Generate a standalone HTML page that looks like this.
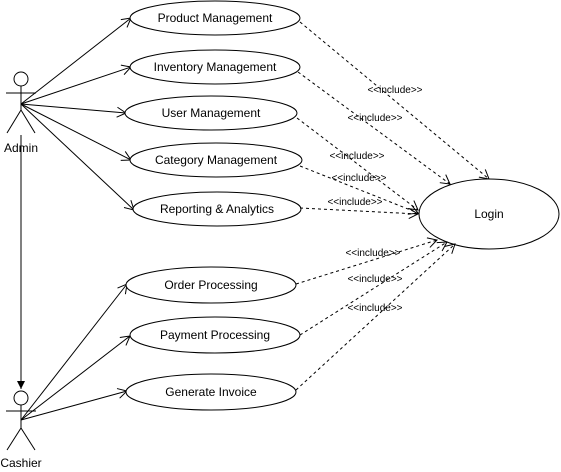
<!DOCTYPE html>
<html><head><meta charset="utf-8"><style>body{margin:0;background:#fff}svg{display:block}text{font-family:"Liberation Sans",Arial,sans-serif;fill:#000}</style></head><body>
<svg width="561" height="472" viewBox="0 0 561 472" xmlns="http://www.w3.org/2000/svg">
<defs>
<marker id="o" markerWidth="12" markerHeight="12" refX="10" refY="6" orient="auto" markerUnits="userSpaceOnUse"><path d="M1,1 L10,6 L1,11" fill="none" stroke="#000" stroke-width="1"/></marker>
<marker id="f" markerWidth="10" markerHeight="10" refX="8" refY="5" orient="auto" markerUnits="userSpaceOnUse"><path d="M0,1 L8,5 L0,9 Z" fill="#000"/></marker>
</defs>
<g stroke="#000" fill="none" stroke-width="1">
<!-- Admin -->
<circle cx="21" cy="79" r="7" fill="#fff"/>
<line x1="21" y1="86" x2="21" y2="110"/><line x1="6" y1="93" x2="36" y2="93"/>
<line x1="21" y1="110" x2="7" y2="133"/><line x1="21" y1="110" x2="35" y2="133"/>
<!-- Cashier -->
<circle cx="21" cy="398" r="7" fill="#fff"/>
<line x1="21" y1="405" x2="21" y2="428"/><line x1="6" y1="411" x2="36" y2="411"/>
<line x1="21" y1="428" x2="7" y2="450"/><line x1="21" y1="428" x2="35" y2="450"/>
<line x1="21" y1="135" x2="21" y2="389" marker-end="url(#f)"/>
<!-- admin assoc -->
<line x1="21" y1="104" x2="131" y2="18" marker-end="url(#o)"/>
<line x1="21" y1="104" x2="131" y2="67" marker-end="url(#o)"/>
<line x1="21" y1="104" x2="126" y2="113" marker-end="url(#o)"/>
<line x1="21" y1="104" x2="131" y2="160" marker-end="url(#o)"/>
<line x1="21" y1="104" x2="134" y2="210" marker-end="url(#o)"/>
<line x1="21" y1="420" x2="127" y2="284" marker-end="url(#o)"/>
<line x1="21" y1="420" x2="130" y2="336" marker-end="url(#o)"/>
<line x1="21" y1="420" x2="127" y2="391" marker-end="url(#o)"/>
<!-- ellipses -->
<ellipse cx="215" cy="18" rx="85" ry="17" fill="#fff"/>
<ellipse cx="215" cy="67" rx="85" ry="17" fill="#fff"/>
<ellipse cx="211" cy="113" rx="86" ry="17" fill="#fff"/>
<ellipse cx="216" cy="160" rx="86" ry="17" fill="#fff"/>
<ellipse cx="217" cy="209" rx="84" ry="17" fill="#fff"/>
<ellipse cx="211" cy="285" rx="85" ry="18" fill="#fff"/>
<ellipse cx="215" cy="335" rx="85" ry="18" fill="#fff"/>
<ellipse cx="211" cy="392" rx="85" ry="18" fill="#fff"/>
<ellipse cx="489" cy="214" rx="70" ry="35" fill="#fff"/>
<!-- includes -->
<g stroke-dasharray="3,3">
<line x1="300" y1="22" x2="489" y2="179" marker-end="url(#o)"/>
<line x1="298" y1="72" x2="450" y2="184" marker-end="url(#o)"/>
<line x1="297" y1="118" x2="418" y2="210" marker-end="url(#o)"/>
<line x1="300" y1="166" x2="418" y2="213" marker-end="url(#o)"/>
<line x1="300" y1="208" x2="418" y2="214" marker-end="url(#o)"/>
<line x1="296" y1="284" x2="437" y2="240" marker-end="url(#o)"/>
<line x1="300" y1="335" x2="447" y2="242" marker-end="url(#o)"/>
<line x1="296" y1="390" x2="455" y2="244" marker-end="url(#o)"/>
</g>
</g>
<g font-size="12" text-anchor="middle">
<text x="215" y="22">Product Management</text>
<text x="215" y="71">Inventory Management</text>
<text x="211" y="117">User Management</text>
<text x="216" y="164">Category Management</text>
<text x="217" y="213">Reporting &amp; Analytics</text>
<text x="211" y="289">Order Processing</text>
<text x="215" y="339">Payment Processing</text>
<text x="211" y="396">Generate Invoice</text>
<text x="489" y="218">Login</text>
<text x="21" y="152">Admin</text>
<text x="21" y="467">Cashier</text>
</g>
<g font-size="10" text-anchor="middle">
<text x="395" y="93">&lt;&lt;include&gt;&gt;</text>
<text x="375" y="121">&lt;&lt;include&gt;&gt;</text>
<text x="357" y="159">&lt;&lt;include&gt;&gt;</text>
<text x="359" y="181">&lt;&lt;include&gt;&gt;</text>
<text x="355" y="205">&lt;&lt;include&gt;&gt;</text>
<text x="373" y="256">&lt;&lt;include&gt;&gt;</text>
<text x="375" y="282">&lt;&lt;include&gt;&gt;</text>
<text x="375" y="311">&lt;&lt;include&gt;&gt;</text>
</g>
</svg>
</body></html>
